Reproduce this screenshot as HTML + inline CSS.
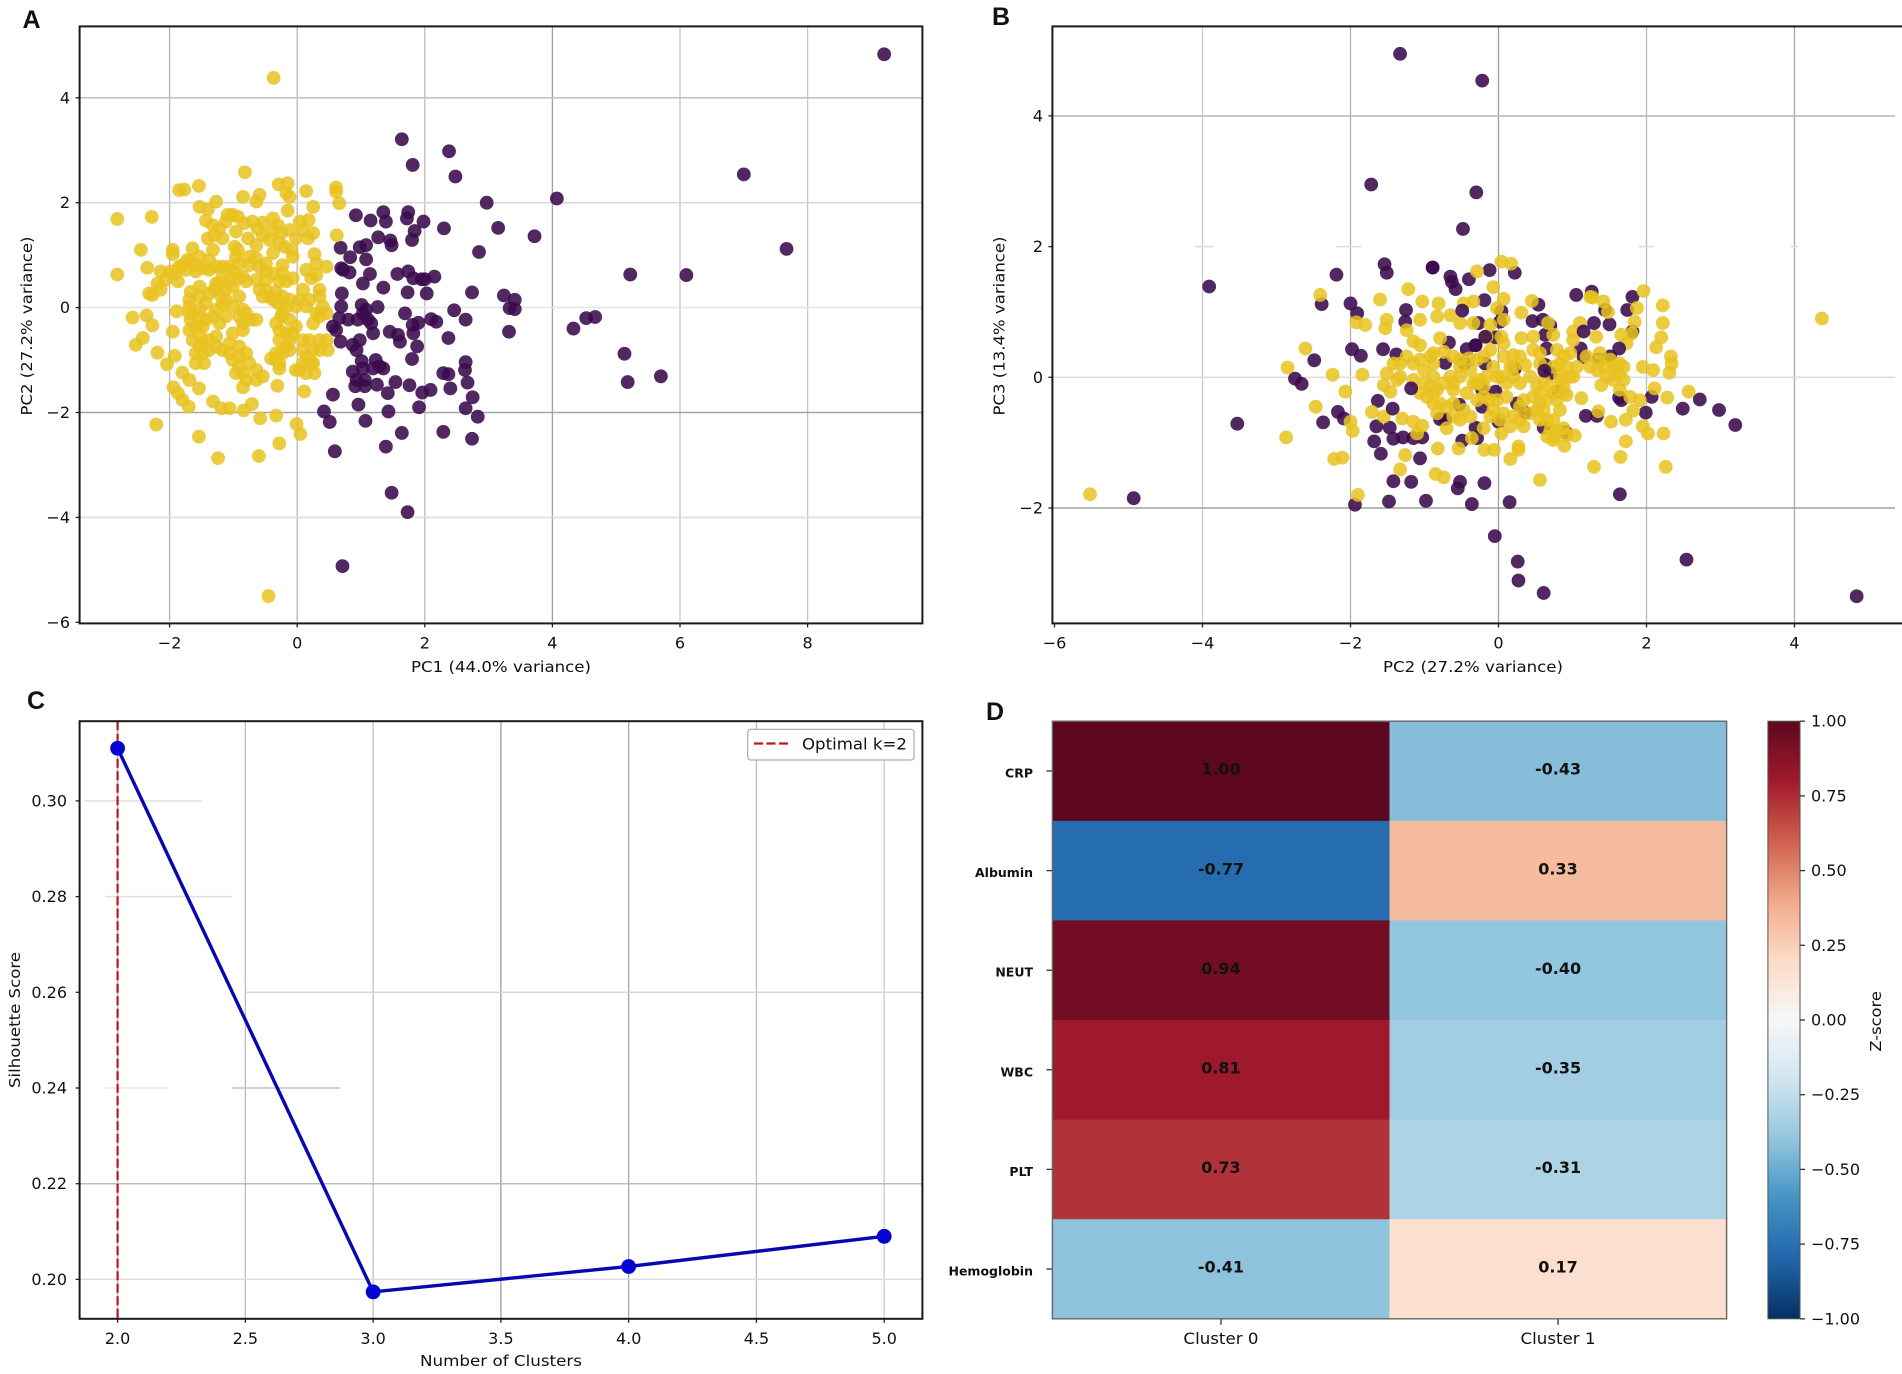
<!DOCTYPE html>
<html lang="en">
<head>
<meta charset="utf-8">
<title>Cluster analysis figure</title>
<style>
html,body{margin:0;padding:0;background:#fff;}
svg{display:block;}
text{font-family:"DejaVu Sans","Liberation Sans",sans-serif;fill:#111;}
</style>
</head>
<body>
<svg id="figure" xmlns="http://www.w3.org/2000/svg" width="1902" height="1374" viewBox="0 0 1902 1374"></svg>
<script>
// ---------- Panel A data (PC1, PC2) ----------
const panelAClusterHigh = [
[9.2,4.83],[7.0,2.54],[7.67,1.12],[6.1,.62],[5.22,.63],[4.07,2.08],[3.72,1.36],[4.33,-.4],[4.53,-.2],[4.67,-.18],[5.13,-.88],[5.18,-1.42],[5.7,-1.31],
[1.64,3.21],[2.38,2.98],[1.81,2.72],[2.48,2.5],[2.97,2.0],[3.15,1.52],[3.24,.23],[3.41,.15],[3.33,-.01],[3.41,-.03],[3.32,-.46],[1.48,-3.53],[1.73,-3.9],[.71,-4.93],
[.92,1.76],[1.35,1.82],[1.39,1.64],[1.15,1.66],[1.74,1.82],[1.72,1.70],[1.98,1.64],[2.30,1.51],[2.85,1.06],[1.84,1.46],[1.80,1.29],[1.27,1.34],[1.46,1.28],[1.48,1.19],
[.68,1.14],[.98,1.15],[1.08,1.19],[.83,.96],[1.08,.92],[.69,.75],[.72,.72],[.82,.67],[1.14,.64],[1.03,.46],[1.35,.38],[1.57,.64],[1.74,.69],[1.82,.56],[1.95,.54],[2.0,.54],[2.15,.59],
[1.73,.29],[2.03,.27],[2.74,.29],[.70,.27],[.69,.02],[1.01,.05],[1.26,.01],[1.08,-.04],[1.03,-.11],[.66,-.20],[.80,-.23],[.95,-.23],[1.11,-.23],[1.16,-.30],[.56,-.36],[.61,-.43],[1.19,-.49],
[.87,-.71],[.68,-.65],[.98,-.62],[.93,-.81],[1.45,-.46],[1.58,-.52],[1.61,-.65],[1.69,-.11],[1.90,-.29],[1.81,-.33],[1.82,-.49],[2.10,-.22],[2.18,-.27],[2.46,-.05],[2.64,-.23],[2.37,-.58],[1.88,-.74],[1.80,-.98],
[2.64,-1.04],[2.63,-1.19],[2.29,-1.25],[2.37,-1.27],[2.67,-1.43],[1.01,-1.02],[1.23,-1.0],[.87,-1.22],[1.03,-1.16],[1.19,-1.16],[1.35,-1.16],[1.29,-1.12],[.93,-1.38],[1.06,-1.38],[.91,-1.50],[1.06,-1.50],[1.25,-1.47],
[1.54,-1.42],[1.76,-1.48],[1.42,-1.63],[1.96,-1.62],[2.09,-1.57],[2.40,-1.54],[.56,-1.66],[.96,-1.85],[1.43,-1.98],[1.91,-1.90],[2.75,-1.71],[2.64,-1.92],[2.83,-2.08],[.42,-1.98],[.51,-2.18],[1.07,-2.16],[1.64,-2.39],[2.29,-2.37],[2.74,-2.50],[1.39,-2.65],[.59,-2.74]
];
const panelAClusterLow = [
[-.37,4.38],[-.45,-5.5],[-2.82,1.69],[-2.28,1.73],[-2.45,1.10],[-2.82,.63],[-2.35,.76],[-.82,2.58],[-1.54,2.32],[-1.85,2.24],[-1.77,2.25],[-.29,2.35],[-.15,2.37],[-.17,2.18],[-.12,2.11],[.14,2.22],[.61,2.29],[.61,2.21],[.66,1.99],[.25,1.92],
[-.85,2.11],[-.59,2.15],[-.64,2.02],[-1.53,1.92],[-1.27,2.02],[-1.40,1.87],[-1.43,1.66],[-.15,1.85],[.18,1.67],[.62,1.38],[.27,1.02],[-1.95,1.10],[-1.95,1.02],[-1.09,1.77],[-1.01,1.77],[-.93,1.73],[-.70,1.64],[-.54,1.62],[-.38,1.70],[-.30,1.57],
[-1.22,1.51],[-1.17,1.32],[-1.40,1.32],[-.96,1.45],[-.77,1.32],[-.54,1.38],[-.38,1.48],[-.12,1.48],[.09,1.48],[.25,1.42],[-.09,1.10],[-.07,.97],[-.98,1.16],[-.93,1.10],[-1.64,1.13],[-1.32,1.10],[-1.72,.91],[-1.53,.97],[-1.38,.91],
[-2.14,.69],[-1.98,.69],[-1.85,.78],[-1.80,.81],[-1.67,.88],[-1.59,.81],[-1.17,.78],[-1.06,.78],[-.75,.97],[-.64,.94],[-.49,.84],[-.38,1.04],[-.75,.81],[-.23,.81],[-.23,.65],[-.49,.69],[-.85,.59],[-1.01,.69],[-1.27,.46],[-1.53,.40],[-1.67,.30],[-1.87,.50],
[-2.27,.24],[-2.32,.27],[-2.14,.34],[.14,.72],[.46,.78],[.30,.62],[.22,.56],[.35,.34],[.09,.34],[.35,.21],[.14,.02],[.40,.02],[.25,-.30],[.46,-.11],[-1.01,.40],[-1.12,.34],[-1.19,.21],[-1.12,.15],[-.91,.21],[-.80,.50],[-.64,.53],[-.49,.34],[-.54,.21],[-.33,.30],[-.23,.21],[-.12,.15],[-.38,.15],
[-.85,-.04],[-1.01,.02],[-1.17,.05],[-1.43,.08],[-1.89,-.07],[-2.58,-.19],[-2.36,-.15],[-2.27,-.34],[-1.53,-.04],[-1.69,-.11],[-1.67,-.23],[-1.32,-.17],[-1.12,-.17],[-.91,-.17],[-.72,-.23],[-1.59,-.36],[-1.95,-.46],[-1.53,-.52],[-1.27,-.55],[-1.01,-.49],[-.85,-.43],
[-.25,-.17],[-.12,-.23],[-.02,-.36],[-.17,-.49],[-.28,-.62],[-.17,-.74],[-2.42,-.58],[-2.53,-.71],[-2.19,-.86],[-1.92,-.92],[-2.04,-1.08],[-1.53,-.74],[-1.38,-.81],[-1.17,-.81],[-.91,-.74],[-.80,-.87],[-1.59,-1.06],[-1.46,-1.06],[-1.01,-1.0],[-.91,-1.12],[-.75,-1.06],[-.64,-1.19],[-.54,-1.31],
[-.33,-.87],[-.28,-1.06],[-.41,-.97],[-.28,-1.16],[.19,-.62],[.09,-.62],[.46,-.62],[.48,-.81],[.25,-.81],[.09,-1.06],[.22,-1.06],[-.02,-1.19],[.27,-1.25],[.14,-1.25],[-1.80,-1.24],[-1.69,-1.38],[-.85,-1.25],[-.96,-1.25],[-.80,-1.38],[-.64,-1.38],[-.85,-1.52],[-.31,-1.49],[.11,-1.60],
[-1.94,-1.52],[-1.87,-1.63],[-1.54,-1.54],[-1.80,-1.76],[-1.70,-1.89],[-1.32,-1.79],[-1.19,-1.92],[-1.06,-1.92],[-.84,-1.96],[-.71,-1.84],[-.58,-2.11],[-.33,-2.06],[-.01,-2.22],[.05,-2.41],[-2.21,-2.23],[-1.54,-2.46],[-.28,-2.59],[-.60,-2.83],[-1.24,-2.87],
[-1.32,1.57],[-1.30,1.38],[-1.12,1.64],[-.83,1.61],[-.62,1.51],[-.25,1.42],[-.02,1.32],[.17,1.32],[.04,1.64],[-.20,1.16],[-.28,1.23],[-.43,1.29],[-.64,1.19],[-1.59,.69],[-1.74,.72],[-1.90,.65],[-2.06,.53],[-2.19,.46],[-1.48,.75],[-1.38,.72],[-1.27,.78],[-.91,.84],[-.96,.97],[-.59,.78],[-.38,.65],[-.28,.50],[-.17,.50],[-.07,.56],[-.49,.53],
[-1.38,.27],[-1.30,.34],[-1.53,.21],[-1.69,.15],[-1.22,.46],[-1.17,.59],[-1.04,.53],[-.93,.56],[-.59,.34],[-.43,.21],[-.30,.08],[-.17,.02],[-.02,.02],[.04,.15],[-1.69,.02],[-1.53,-.17],[-1.43,-.23],[-1.27,-.04],[-1.22,-.30],[-.85,-.30],[-.64,-.23],[-.80,-.11],[-1.48,-.36],[-1.69,-.43],[-1.64,-.62],[-1.48,-.68],[-1.27,-.74],[-1.38,-.62],[-1.06,-.68],[-.91,-.93],[-1.06,-.87],[-1.59,-.87],[-1.48,-.87],
[-.23,-.11],[-.33,-.30],[-.28,-.43],[-.12,-.62],[-.07,-.49],[-.23,-.87],[-.12,-.81],[-.33,-1.0],[.09,-.81],[.14,-.93],[.04,-1.19],[.25,-1.06],[.35,-.81],[.35,-.62],[.35,-.17],[.30,-.11],[.19,.15],[.30,.84]
];
const panelAXTicks = [-2,0,2,4,6,8];
const panelAYTicks = [-6,-4,-2,0,2,4];

// ---------- Panel B data (PC2, PC3) ----------
const panelBClusterHigh = [
[-1.33,4.95],[-.22,4.54],[-1.72,2.95],[-.3,2.83],[-.48,2.27],[-3.91,1.39],[-3.53,-.71],[-4.93,-1.85],[4.84,-3.35],[2.54,-2.79],[.26,-2.82],[.27,-3.11],[.61,-3.30],[-.05,-2.43],[3.2,-.73],[2.98,-.5],[2.72,-.34],[2.49,-.48],
[-2.19,1.57],[-1.54,1.73],[-1.51,1.60],[-.89,1.68],[-.65,1.54],[-.63,1.46],[-.58,1.35],[-.40,1.50],[-.12,1.64],[.22,1.60],[-2.39,1.12],[-2.0,1.13],[-1.91,.98],[-1.26,.85],[-.19,1.18],[.04,1.01],[-.27,.83],[.02,.85],[.46,.86],[.54,1.11],[.60,.88],[.63,.65],[.70,.79],[1.05,1.26],[1.26,1.31],[1.44,1.03],[1.81,1.23],[1.74,1.03],[1.50,.81],[1.29,.83],[1.81,.70],
[-1.98,.43],[-1.86,.33],[-1.56,.43],[-1.38,.35],[-2.49,.26],[-2.75,-.02],[-2.66,-.10],[-.67,.53],[-.72,.22],[-.43,.43],[-.31,.49],[-.46,.21],[-.04,.61],[-.18,.21],[.65,.44],[.63,.19],[.70,.06],[1.11,.44],[1.15,.31],[1.51,.32],[1.35,.27],[.22,.13],
[-1.63,-.36],[-2.17,-.53],[-2.09,-.63],[-2.37,-.69],[-1.65,-.75],[-1.47,-.77],[-1.42,-.94],[-1.29,-.92],[-1.15,-.93],[-1.03,-.92],[-1.68,-.98],[-1.59,-1.17],[-1.06,-1.24],[-1.42,-1.59],[-1.18,-1.60],[-.52,-1.60],[-.55,-1.70],[-.19,-1.62],[-1.48,-1.90],[-.98,-1.89],[-.36,-1.94],[.15,-1.91],[-1.94,-1.95],[1.64,-1.79],
[0,-.68],[.61,-.77],[.91,-.84],[1.18,-.59],[1.33,-.59],[1.63,-.31],[1.66,-.35],[1.99,-.54],[2.07,-.30],[-.53,-.42],[-.22,-.45],[.25,-.40],[.36,-.54],[-.79,-.64],[-.72,-.64],[-.31,-.77],[-.49,-.97],[-.29,-.93],[-.22,-.19],[-.04,-.22],[.81,-.22]
];
const panelBClusterLow = [
[-5.52,-1.79],[4.37,.90],[-2.41,1.26],[-1.60,1.19],[-1.22,1.35],[-1.03,1.16],[-.81,1.13],[-.29,1.62],[.04,1.77],[.17,1.74],[-.07,1.38],[.07,1.20],[-.34,1.16],[-.47,1.13],[.45,1.17],[.31,.99],[1.27,1.22],[1.42,1.16],[1.96,1.32],[2.22,1.10],[2.22,.83],[2.20,.61],[2.13,.46],[1.87,1.06],[1.84,.85],[1.66,.65],[1.80,.67],[1.73,.52],[2.33,.32],[2.34,.21],[2.31,.07],[1.95,.16],[2.09,.11],[2.11,-.17],[2.28,-.31],[2.57,-.22],
[1.95,-.75],[2.02,-.86],[2.23,-.86],[1.72,-.98],[1.65,-1.22],[1.29,-1.37],[2.26,-1.37],[1.52,-.68],[1.72,-.65],[1.82,-.51],[1.12,-.32],[1.39,-.12],[1.62,.04],[1.64,.21],[1.55,.16],[1.35,.24],[1.24,.16],[1.35,-.52],[1.03,-.89],[.92,-.88],[.88,-.24],[.97,.01],[.85,-.04],[.83,.21],[1.01,.57],[.97,.37],[1.19,.32],[1.32,.62],[1.01,.70],[1.10,.83],[1.48,1.00],[1.24,1.23],[.74,.65],[.67,.83],[.31,.60],[.47,.62],[.20,.34],[.07,.52],[.04,.62],[-.11,.80],[.07,.88],[-.02,1.06],[-.34,.83],[-.52,.83],[-.65,.95],[-.83,.93],[-1.06,.88],[-1.24,.72],[-1.53,.75],[-1.51,.88],[-1.92,.84],[-1.80,.80],
[-2.61,.44],[-2.85,.15],[-2.24,.04],[-1.84,.04],[-2.07,-.22],[-2.47,-.45],[-2.87,-.92],[-2.22,-1.25],[-2.11,-1.23],[-2.0,-.68],[-1.97,-.82],[-1.90,-1.80],[-1.33,-1.41],[-1.26,-1.19],[-.85,-1.48],[-.74,-1.53],[-.82,-1.09],[-.54,-1.09],[-.19,-1.11],[-.06,-1.11],[.16,-1.25],[.27,-1.06],[.27,-1.11],[.56,-1.57],[.89,-1.05],[.66,-.91],[.76,-.91],[.34,-.75],[.04,-.86],[-.20,-.78],[-.36,-.93],[-.70,-.78],[-1.03,-.74],[-1.10,-.86],[-1.30,-.63],[-1.15,-.68],[-1.71,-.53],[-1.55,-.60],
[-1.51,.06],[-1.55,-.12],[-1.46,-.22],[-1.33,.21],[-1.15,.21],[-.92,.32],[-.79,.60],[-1.06,.49],[-1.15,.55],[-.88,.21],[-.61,.32],[-.52,.16],[-.20,.32],[-.07,.16],[.04,.01],[.16,.16],[.29,.32],[.47,.42],[.56,.21],[.79,.42],[.92,.16],[1.01,.01],[.74,.16],[.43,.01],[.52,-.14],[.65,-.35],[.74,-.24],[.92,-.27],[.61,-.50],[.65,-.65],[.43,-.55],[.34,-.35],[.29,-.45],[.20,-.60],[.07,-.55],[-.02,-.35],[-.20,-.14],[-.29,-.09],[-.43,-.24],[-.61,-.19],[-.65,.01],[-.88,.01],[-1.01,-.09],[-.97,-.30],[-.88,-.40],[-.83,-.55],[-.61,-.40],[-.52,-.65],[-.38,-.60],[-.07,-.50],[-.25,-.04],[-.38,.11],[1.55,-.04],[1.64,-.19],[1.78,-.30],[1.91,-.35],[1.37,.37],[1.51,.27],[1.69,.16],[-.29,.27],[-.16,.62],[.11,-.30],[.79,-.35],[.74,-.65],[.88,-.78],
[-1.24,.32],[-1.06,.27],[-1.42,.21],[-1.01,.11],[-.88,.37],[-.74,.39],[-.52,.27],[-.40,.29],[-.11,.42],[.07,.32],[.20,.16],[.36,.19],[.56,.37],[.88,.32],[1.06,.16],[.83,.01],[.61,-.04],[.70,-.14],[.56,-.24],[.88,-.14],[.56,-.40],[.47,-.30],[.29,-.09],[.20,.01],[.11,-.09],[-.02,.01],[-.16,.01],[-.34,-.09],[-.52,.01],[-.61,-.09],[-.74,-.09],[-.83,-.19],[-.92,-.14],[-1.06,-.24],[-1.15,-.04],[-1.33,.01],[-1.37,-.04],[-.88,-.24],[-.79,-.40],[-.70,-.45],[-.61,-.60],[-.47,-.50],[-.29,-.35],[-.20,-.30],[-.11,-.35],[-.11,-.60],[.02,-.65],[.16,-.75],[.29,-.65],[.52,-.50],[.56,-.65],[.70,-.81],[.79,-.81],[.74,-.96],[.83,-.50],[1.42,.16],[1.60,.16],[1.69,-.04],[1.46,.01],[1.33,.11]
];
const panelBClusterHighOnTop = [[1.15,.70],[-1.25,1.03],[-.49,1.02],[-1.43,-.48],[-1.18,-.17],[1.63,.44],[-.18,.62],[-.89,1.68],[.62,.10],[-.31,.49]];
const panelBXTicks = [-6,-4,-2,0,2,4];
const panelBYTicks = [-2,0,2,4];

// ---------- Panel C data ----------
const clusterCounts = [2,3,4,5];
const silhouetteScores = [.311,.1974,.2027,.209];
const optimalK = 2;
const panelCXTicks = ['2.0','2.5','3.0','3.5','4.0','4.5','5.0'];
const panelCYTicks = ['0.20','0.22','0.24','0.26','0.28','0.30'];

// ---------- Panel D data ----------
const heatmapMarkers = ['CRP','Albumin','NEUT','WBC','PLT','Hemoglobin'];
const heatmapClusters = ['Cluster 0','Cluster 1'];
const cluster0Scores = [1.00,-.77,.94,.81,.73,-.41];
const cluster1Scores = [-.43,.33,-.40,-.35,-.31,.17];
const colorbarTicks = ['-1.00','-0.75','-0.50','-0.25','0.00','0.25','0.50','0.75','1.00'];
const rdBuColors = ['#053061','#2166ac','#4393c3','#92c5de','#d1e5f0','#f7f7f7','#fddbc7','#f0a98a','#d0604d','#a01a2c','#5e0720'];

// ---------- Helpers ----------
const svg = document.getElementById('figure');
const NS = 'http://www.w3.org/2000/svg';
function mk(tag, name, attrs, parent) {
  const el = document.createElementNS(NS, tag);
  
  
  for (const k in attrs) el.setAttribute(k, attrs[k]);
  (parent || svg).appendChild(el);
  return el;
}
function txt(name, str, x, y, size, opt) {
  opt = opt || {};
  const a = {x: x, y: y, 'font-size': size, 'text-anchor': opt.anchor || 'middle', 'dominant-baseline': 'central'};
  if (opt.weight) a['font-weight'] = opt.weight;
  if (opt.len) { a.textLength = opt.len; a.lengthAdjust = 'spacingAndGlyphs'; }
  if (opt.rot) a.transform = 'rotate(' + opt.rot + ' ' + x + ' ' + y + ')';
  if (opt.family) a.style = 'font-family:' + opt.family;
  const el = mk('text', name, a, opt.parent);
  el.textContent = str;
  return el;
}
function linear(d0, r0, d1, r1) { return v => r0 + (v - d0) * (r1 - r0) / (d1 - d0); }
function minus(v) { return String(v).replace('-', '\u2212'); }
function hline(name, sy, x0, x1, color, w, parent) { mk('line', name, {x1: x0, x2: x1, y1: sy, y2: sy, stroke: color, 'stroke-width': w}, parent); }
function vline(name, sx, y0, y1, color, w, parent) { mk('line', name, {x1: sx, x2: sx, y1: y0, y2: y1, stroke: color, 'stroke-width': w}, parent); }
function scatter(points, sx, sy, fill, opacity, name, group) {
  points.forEach(p => {
    mk('circle', name, {cx: sx(p[0]), cy: sy(p[1]), r: 6.9, fill: fill, 'fill-opacity': opacity}, group);
  });
}
function frame(name, L, T, R, B, color, w) {
  mk('rect', name, {x: L, y: T, width: R - L, height: B - T, fill: 'none', stroke: color || '#1a1a1a', 'stroke-width': w || 2});
}
const PURPLE = '#3a0a4c', YELLOW = '#e8c21e';
const L1 = 79.6, R1 = 922.4, T1 = 26.4, B1 = 623.4;
const L2 = 1052.4, R2 = 1895, T2 = 721.2, B2 = 1318.8;

// ---------- Panel A ----------
(function () {
  const g = mk('g', 'panel-a', {});
  const sx = linear(0, 297.2, 2, 424.8), sy = linear(0, 307.6, 2, 202.7);
  const vShade = {'-2': '#b4b4b4', '0': '#b8b8b8', '2': '#bdbdbd', '4': '#a0a0a0', '6': '#c6c6c6', '8': '#c6c6c6'};
  const hShade = {'-6': '#ffffff', '-4': '#dedede', '-2': '#a6a6a6', '0': '#e6e6e6', '2': '#d8d8d8', '4': '#c4c4c4'};
  panelAXTicks.forEach(t => {
    vline('x-gridline', sx(t), T1, B1, vShade[t], 1.3, g);
    vline('x-tick', sx(t), B1, B1 + 4, '#222', 1.3, g);
    txt('x-tick-label', minus(t), sx(t), 643, 16, {parent: g});
  });
  panelAYTicks.forEach(t => {
    hline('y-gridline', sy(t), L1, R1, hShade[t], 1.6, g);
    hline('y-tick', sy(t), L1 - 4, L1, '#222', 1.3, g);
    txt('y-tick-label', minus(t), 70, sy(t), 16, {anchor: 'end', parent: g});
  });
  scatter(panelAClusterHigh, sx, sy, PURPLE, .88, 'cluster-0-point', g);
  scatter(panelAClusterLow, sx, sy, YELLOW, .85, 'cluster-1-point', g);
  frame('panel-a-frame', L1, T1, R1, B1);
  txt('x-axis-title', 'PC1 (44.0% variance)', 501, 667, 15.5, {len: 180, parent: g});
  txt('y-axis-title', 'PC2 (27.2% variance)', 27, 326, 15.5, {len: 179, rot: -90, parent: g});
  txt('panel-label-a', 'A', 31.5, 20, 25, {weight: 'bold', family: '"Liberation Sans",sans-serif', parent: g});
})();

// ---------- Panel B ----------
(function () {
  const g = mk('g', 'panel-b', {});
  const sx = linear(0, 1498.5, 2, 1646.5), sy = linear(0, 377.3, 2, 246.6);
  const vShade = {'-6': '#ffffff', '-4': '#cccccc', '-2': '#b0b0b0', '0': '#a0a0a0', '2': '#bcbcbc', '4': '#a8a8a8'};
  const hShade = {'-2': '#a0a0a0', '0': '#dddddd', '4': '#bcbcbc'};
  panelBXTicks.forEach(t => {
    vline('x-gridline', sx(t), T1, B1, vShade[t], 1.3, g);
    vline('x-tick', sx(t), B1, B1 + 4, '#222', 1.3, g);
    txt('x-tick-label', minus(t), sx(t), 643, 16, {parent: g});
  });
  panelBYTicks.forEach(t => {
    if (hShade[t]) hline('y-gridline', sy(t), L2, R2, hShade[t], 1.6, g);
    hline('y-tick', sy(t), L2 - 4, L2, '#222', 1.3, g);
    txt('y-tick-label', minus(t), 1043, sy(t), 16, {anchor: 'end', parent: g});
  });
  [[-4.1,-3.85],[-2.2,-1.85],[1.9,2.1],[3.95,4.05]].forEach(s => {
    hline('y-gridline-fragment', sy(2), sx(s[0]), sx(s[1]), '#dddddd', 1.6, g);
  });
  scatter(panelBClusterHigh, sx, sy, PURPLE, .88, 'cluster-0-point', g);
  scatter(panelBClusterLow, sx, sy, YELLOW, .85, 'cluster-1-point', g);
  scatter(panelBClusterHighOnTop, sx, sy, PURPLE, .88, 'cluster-0-point', g);
  frame('panel-b-frame', L2, T1, R2 + 8, B1);
  txt('x-axis-title', 'PC2 (27.2% variance)', 1473, 667, 15.5, {len: 180, parent: g});
  txt('y-axis-title', 'PC3 (13.4% variance)', 999.5, 326, 15.5, {len: 179, rot: -90, parent: g});
  txt('panel-label-b', 'B', 1001, 17, 25, {weight: 'bold', family: '"Liberation Sans",sans-serif', parent: g});
})();

// ---------- Panel C ----------
(function () {
  const g = mk('g', 'panel-c', {});
  const sx = linear(2, 117.6, 5, 884.2), sy = linear(.20, 1279.4, .30, 800.9);
  const vShade = {'2.0': '#b0b0b0', '2.5': '#bcbcbc', '3.0': '#c0c0c0', '3.5': '#9c9c9c', '4.0': '#a8a8a8', '4.5': '#bcbcbc', '5.0': '#cccccc'};
  panelCXTicks.forEach(t => {
    const v = parseFloat(t);
    vline('x-gridline', sx(v), T2, B2, vShade[t], 1.3, g);
    vline('x-tick', sx(v), B2, B2 + 4, '#222', 1.3, g);
    txt('x-tick-label', t, sx(v), 1338.6, 16, {parent: g});
  });
  const hSegments = {'0.20': [[1.85,5.2,'#dcdcdc']], '0.22': [[1.85,5.2,'#bcbcbc']], '0.24': [[1.95,2.2,'#e8e8e8'],[2.45,2.87,'#c4c4c4']], '0.26': [[2.5,5.2,'#d6d6d6']], '0.28': [[1.95,2.45,'#e0e0e0']], '0.30': [[1.87,2.33,'#e0e0e0']]};
  panelCYTicks.forEach(t => {
    const v = parseFloat(t);
    hSegments[t].forEach(s => {
      hline('y-gridline', sy(v), Math.max(L1, sx(s[0])), Math.min(R1, sx(s[1])), s[2], 1.5, g);
    });
    hline('y-tick', sy(v), L1 - 4, L1, '#222', 1.3, g);
    txt('y-tick-label', t, 67, sy(v), 16, {anchor: 'end', parent: g});
  });
  mk('line', 'optimal-k-line', {x1: sx(optimalK), x2: sx(optimalK), y1: T2, y2: B2, stroke: '#b8141e', 'stroke-width': 2.2, 'stroke-dasharray': '9 3.5'}, g);
  const pts = clusterCounts.map((k, i) => sx(k) + ',' + sy(silhouetteScores[i])).join(' ');
  mk('polyline', 'silhouette-line', {points: pts, fill: 'none', stroke: '#0808b0', 'stroke-width': 3.4}, g);
  clusterCounts.forEach((k, i) => {
    mk('circle', 'silhouette-point', {cx: sx(k), cy: sy(silhouetteScores[i]), r: 7.4, fill: '#0404d0'}, g);
  });
  frame('panel-c-frame', L1, T2, R1, B2);
  const leg = mk('g', 'legend', {}, g);
  mk('rect', 'legend-box', {x: 747.7, y: 729.4, width: 166.3, height: 30.6, rx: 3, fill: '#fff', stroke: '#b0b0b0', 'stroke-width': 1.3}, leg);
  mk('line', 'legend-swatch', {x1: 754, x2: 789, y1: 743.5, y2: 743.5, stroke: '#c0141e', 'stroke-width': 2.2, 'stroke-dasharray': '9 3.5'}, leg);
  txt('legend-label', 'Optimal k=2', 802, 744, 16, {anchor: 'start', len: 105, parent: leg});
  txt('x-axis-title', 'Number of Clusters', 501, 1361, 15.5, {len: 162, parent: g});
  txt('y-axis-title', 'Silhouette Score', 15, 1020, 15.5, {len: 136, rot: -90, parent: g});
  txt('panel-label-c', 'C', 36, 701, 25, {weight: 'bold', family: '"Liberation Sans",sans-serif', parent: g});
})();

// ---------- Panel D ----------
(function () {
  const g = mk('g', 'panel-d', {});
  const L = 1052.4, R = 1726.6;
  const colW = (R - L) / heatmapClusters.length;
  const rowH = (B2 - T2) / heatmapMarkers.length;
  const shade = v => {
    const t = Math.max(0, Math.min(.99999, (v + 1) / 2)) * (rdBuColors.length - 1);
    const i = Math.floor(t), f = t - i;
    const c = s => [1, 3, 5].map(k => parseInt(s.substr(k, 2), 16));
    const a = c(rdBuColors[i]), b = c(rdBuColors[i + 1]);
    return 'rgb(' + a.map((x, j) => Math.round(x + (b[j] - x) * f)).join(',') + ')';
  };
  const rows = [cluster0Scores, cluster1Scores];
  rows.forEach((col, c) => {
    col.forEach((v, r) => {
      mk('rect', 'heatmap-cell', {x: L + c * colW, y: T2 + r * rowH, width: colW + .5, height: rowH + .5, fill: shade(v)}, g);
    });
  });
  rows.forEach((col, c) => {
    col.forEach((v, r) => {
      txt('heatmap-value', v.toFixed(2), L + (c + .5) * colW, T2 + (r + .5) * rowH - 1.8, 16, {weight: 'bold', parent: g}).setAttribute('fill', '#000');
    });
  });
  heatmapMarkers.forEach((m, r) => {
    const y = T2 + (r + .5) * rowH;
    hline('y-tick', y, L - 6, L, '#333', 1.3, g);
    txt('marker-label', m, 1033, y + 2, 12.5, {anchor: 'end', weight: 'bold', parent: g});
  });
  heatmapClusters.forEach((m, c) => {
    const x = L + (c + .5) * colW;
    vline('x-tick', x, B2, B2 + 6, '#333', 1.3, g);
    txt('cluster-label', m, x, 1338.6, 16, {len: 75, parent: g});
  });
  mk('rect', 'heatmap-frame', {x: L, y: T2, width: R - L, height: B2 - T2, fill: 'none', stroke: '#666', 'stroke-width': 1.4}, g);

  const defs = mk('defs', 'defs', {}, g);
  const grad = mk('linearGradient', 'colorbar-gradient', {id: 'rdbu', x1: 0, y1: 1, x2: 0, y2: 0}, defs);
  rdBuColors.forEach((col, i) => {
    mk('stop', 'gradient-stop', {offset: i / (rdBuColors.length - 1), 'stop-color': col}, grad);
  });
  const cbL = 1767.9, cbR = 1800;
  const cy = linear(-1, B2, 1, T2);
  mk('rect', 'colorbar', {x: cbL, y: T2, width: cbR - cbL, height: B2 - T2, fill: 'url(#rdbu)', stroke: '#555', 'stroke-width': 1}, g);
  colorbarTicks.forEach(t => {
    const v = parseFloat(t);
    hline('colorbar-tick', cy(v), cbR, cbR + 5, '#333', 1.3, g);
    txt('colorbar-tick-label', minus(t), 1811, cy(v), 16, {anchor: 'start', parent: g});
  });
  txt('colorbar-title', 'Z-score', 1875.8, 1021.4, 15.5, {len: 60.5, rot: -90, parent: g});
  txt('panel-label-d', 'D', 995, 712, 25, {weight: 'bold', family: '"Liberation Sans",sans-serif', parent: g});
})();
</script>
</body>
</html>
